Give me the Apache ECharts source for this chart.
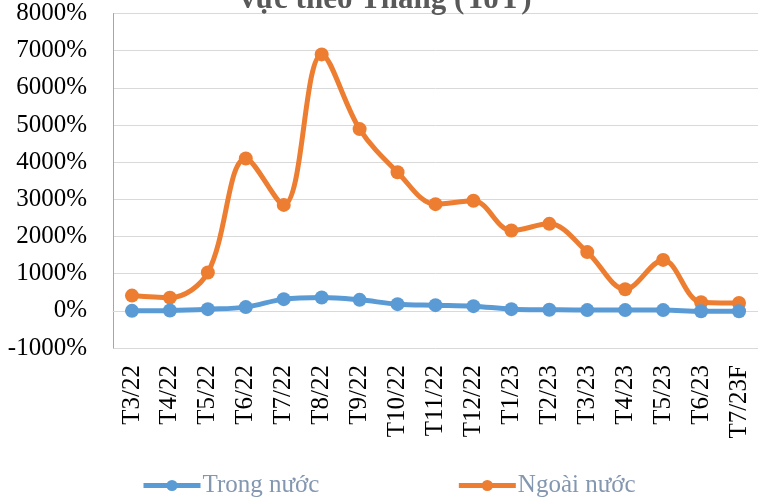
<!DOCTYPE html>
<html>
<head>
<meta charset="utf-8">
<script src="https://cdn.jsdelivr.net/npm/echarts@6/dist/echarts.min.js"></script>
<style>
  html, body { margin: 0; padding: 0; background: #fff; }
  #chart { width: 758px; height: 498px; }
</style>
</head>
<body>
<div id="chart"></div>
<script>
const months = ['T3/22', 'T4/22', 'T5/22', 'T6/22', 'T7/22', 'T8/22', 'T9/22', 'T10/22', 'T11/22',
  'T12/22', 'T1/23', 'T2/23', 'T3/23', 'T4/23', 'T5/23', 'T6/23', 'T7/23F']
const trongNuoc = [0, 10, 45, 100, 315, 358, 296, 180, 153, 126, 45, 30, 20, 20, 20, -10, -10]
const ngoaiNuoc = [410, 355, 1030, 4100, 2850, 6900, 4890, 3730, 2870, 2960, 2160, 2340, 1580, 580, 1370, 230, 210]

const serif = '"Liberation Serif", "DejaVu Serif", serif'
const gridColor = '#d9d9d9'

const chart = echarts.init(document.getElementById('chart'))

function lineSeries(name, data, color) {
  return {
    name,
    type: 'line',
    data,
    smooth: 0.35,
    symbol: 'circle',
    symbolSize: 14,
    lineStyle: { width: 5, color },
    itemStyle: { color },
    z: name === 'Trong nước' ? 3 : 2
  }
}

chart.setOption({
  animation: false,
  title: {
    text: 'vực theo Tháng (YoY)',
    left: 235,
    top: -21,
    textStyle: { fontFamily: serif, fontSize: 31, fontWeight: 'bold', color: '#595959' }
  },
  legend: {
    left: 136,
    top: 468,
    itemWidth: 57,
    itemHeight: 14,
    itemGap: 137,
    lineStyle: { width: 5 },
    textStyle: { fontFamily: serif, fontSize: 25, color: '#8497b0', padding: [0, 0, 0, -3] },
    data: ['Trong nước', 'Ngoài nước']
  },
  grid: { left: 113, top: 13.5, width: 655, bottom: 150 },
  xAxis: {
    type: 'category',
    data: months,
    boundaryGap: true,
    axisLine: { onZero: true, lineStyle: { color: gridColor, width: 1 } },
    axisTick: { show: false },
    axisLabel: {
      rotate: 90,
      margin: 17,
      interval: 0,
      fontFamily: serif,
      fontSize: 25,
      color: '#000'
    }
  },
  yAxis: {
    type: 'value',
    min: -1000,
    max: 8000,
    interval: 1000,
    axisLine: { show: true, lineStyle: { color: '#a6a6a6' } },
    axisTick: { show: false },
    splitLine: { lineStyle: { color: gridColor, width: 1 } },
    axisLabel: {
      margin: 26,
      formatter: v => v + '%',
      fontFamily: serif,
      fontSize: 25,
      color: '#000'
    }
  },
  series: [
    lineSeries('Trong nước', trongNuoc, '#5b9bd5'),
    lineSeries('Ngoài nước', ngoaiNuoc, '#ed7d31')
  ]
})
</script>
</body>
</html>
